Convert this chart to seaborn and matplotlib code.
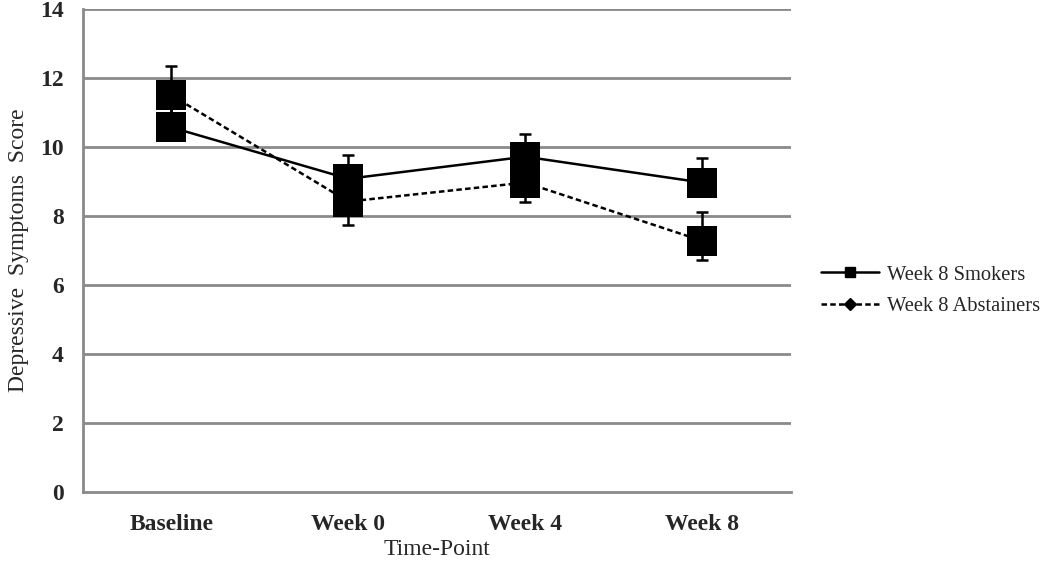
import pandas as pd
import matplotlib
matplotlib.use('Agg')
import matplotlib.pyplot as plt
from matplotlib.lines import Line2D
import seaborn as sns

# values
time_points = ['Baseline', 'Week 0', 'Week 4', 'Week 8']
smokers = [10.57, 9.08, 9.72, 8.97]
abstainers = [11.5, 8.42, 8.97, 7.28]
smokers_err_low = [0.0, 0.0, 0.0, 0.0]
smokers_err_high = [0.6, 0.68, 0.66, 0.7]
abstainers_err_low = [0.8, 0.68, 0.56, 0.56]
abstainers_err_high = [0.84, 0.68, 0.56, 0.85]
series_names = ['Week 8 Smokers', 'Week 8 Abstainers']

df = pd.DataFrame({
    'Time-Point': time_points * 2,
    'Score': smokers + abstainers,
    'Group': [series_names[0]] * 4 + [series_names[1]] * 4,
})

sns.set_style('white')
plt.rcParams['font.family'] = ['Liberation Serif', 'DejaVu Serif']

fig = plt.figure(figsize=(10.5, 5.68), dpi=100)
ax = fig.add_axes([0.079, 0.134, 0.674, 0.850])

grid_col = '#8a8a8a'
for v in range(2, 15, 2):
    ax.axhline(v, color=grid_col, lw=2.0, zorder=0)

# error bars
ax.errorbar(time_points, smokers, yerr=[smokers_err_low, smokers_err_high],
            fmt='none', ecolor='black', elinewidth=1.8, capsize=4.3, capthick=1.8, zorder=2)
ax.errorbar(time_points, abstainers, yerr=[abstainers_err_low, abstainers_err_high],
            fmt='none', ecolor='black', elinewidth=1.8, capsize=4.3, capthick=1.8, zorder=2)

dash = (2.2, 1.3)
sns.lineplot(data=df, x='Time-Point', y='Score', hue='Group', style='Group',
             palette=['black', 'black'], dashes=[(None, None), dash],
             markers=['s', 's'], markersize=21, markeredgewidth=0,
             linewidth=1.8, sort=False, legend=False, ax=ax, zorder=3)

ax.set_ylim(0, 14)
ax.set_xlim(-0.5, 3.5)
ax.set_yticks(range(0, 15, 2))
ax.set_xticks(range(4))
ax.set_xticklabels(time_points, fontsize=17, fontweight='bold')
ax.set_yticklabels([str(v) for v in range(0, 15, 2)], fontsize=17, fontweight='bold')
ax.set_xticks([-0.5, 0.5, 1.5, 2.5, 3.5], minor=True)
ax.tick_params(axis='x', which='major', length=0, pad=16)
ax.tick_params(axis='x', which='minor', length=5, width=2, color=grid_col, direction='out')
ax.tick_params(axis='y', length=5, width=2, color=grid_col, direction='out', pad=9)

for side in ['top', 'right']:
    ax.spines[side].set_visible(False)
for side in ['left', 'bottom']:
    ax.spines[side].set_color(grid_col)
    ax.spines[side].set_linewidth(2.0)

ax.set_xlabel('Time-Point', fontsize=17, labelpad=3)
ax.set_ylabel('Depressive  Symptoms  Score', fontsize=17, labelpad=8)

handles = [
    Line2D([], [], color='black', lw=1.8, marker='s', markersize=6.5),
    Line2D([], [], color='black', lw=1.8, ls=(0, dash), marker='D', markersize=6.5),
]
fig.legend(handles, series_names, loc='center left', bbox_to_anchor=(0.782, 0.488),
           frameon=False, fontsize=14.8, handlelength=2.8, handletextpad=0.4,
           labelspacing=0.6, borderpad=0, borderaxespad=0)

fig.savefig('out.png', dpi=100)
